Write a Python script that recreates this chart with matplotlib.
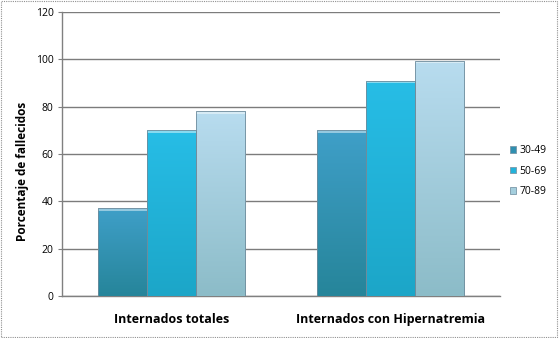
import matplotlib
matplotlib.use("Agg")
import matplotlib.pyplot as plt
import numpy as np
from matplotlib.colors import LinearSegmentedColormap
from matplotlib.patches import Rectangle

categories = ["Internados totales", "Internados con Hipernatremia"]
series_names = ["30-49", "50-69", "70-89"]
values_30_49 = [37, 70]
values_50_69 = [70, 91]
values_70_89 = [78, 99.5]
yticks = [0, 20, 40, 60, 80, 100, 120]

series = [values_30_49, values_50_69, values_70_89]
# (top colour, bottom colour) gradients per series
grads = [("#3f9fc8", "#26859a"), ("#27bde6", "#1ca6c8"), ("#b8dcef", "#8cbcc8")]
solid = ["#2f8fb0", "#22b2da", "#a4cedd"]

plt.rcParams['font.family'] = ['Open Sans', 'DejaVu Sans']

fig = plt.figure(figsize=(5.59, 3.38), dpi=100)
ax = fig.add_axes([62/559, 1 - 296/338, (500-62)/559, (296-12)/338])

x = np.arange(len(categories))
w = 0.224
for i, (vals, name) in enumerate(zip(series, series_names)):
    bars = ax.bar(x + (i - 1) * w, vals, w, color=solid[i], edgecolor="#7a98a8",
                  linewidth=0.6, label=name, zorder=3)
    cmap = LinearSegmentedColormap.from_list("g%d" % i, [grads[i][1], grads[i][0]])
    for b in bars:
        x0, y0 = b.get_x(), b.get_y()
        bw, bh = b.get_width(), b.get_height()
        grad = np.linspace(0, 1, 100).reshape(-1, 1)
        im = ax.imshow(grad, extent=[x0, x0 + bw, y0, y0 + bh], origin="lower",
                       aspect="auto", cmap=cmap, zorder=3.5)
        im.set_clip_path(b)
        ax.add_patch(Rectangle((x0, y0 + bh - 1.2), bw, 1.2, facecolor="white",
                               alpha=0.45, edgecolor="none", zorder=3.7))
        ax.add_patch(Rectangle((x0, y0), bw, bh, facecolor="none",
                               edgecolor="#6f8c9c", linewidth=0.6, zorder=3.8))

ax.set_xlim(-0.5, 1.5)
ax.set_ylim(0, 120)
ax.set_yticks(yticks)
ax.set_yticklabels([str(t) for t in yticks], fontsize=7.5)
ax.set_xticks(x)
ax.set_xticklabels(categories, fontsize=9, fontweight="bold")
ax.tick_params(axis="x", length=0, pad=12)
ax.tick_params(axis="y", length=3, color="#808080", pad=3)
ax.grid(axis="y", color="#7c7c7c", linewidth=1.0, zorder=0)
for s in ["top", "right"]:
    ax.spines[s].set_visible(False)
for s in ["left", "bottom"]:
    ax.spines[s].set_color("#808080")
    ax.spines[s].set_linewidth(1.0)
ax.set_ylabel("Porcentaje de fallecidos", fontsize=8.5, fontweight="bold")
ax.yaxis.set_label_coords((29 - 62) / 438, (296 - 171) / 284)

leg = fig.legend(loc="center left", bbox_to_anchor=(510/559, 1 - 171/338), frameon=False,
                 fontsize=7.5, handlelength=0.6, handleheight=0.6, handletextpad=0.3,
                 labelspacing=0.9, borderaxespad=0, borderpad=0)

fig.patches.append(Rectangle((0.002, 0.003), 0.995, 0.993, transform=fig.transFigure,
                             fill=False, edgecolor="#909090", linewidth=0.8,
                             linestyle=(0, (1, 1))))

fig.savefig("out.png", dpi=100)
